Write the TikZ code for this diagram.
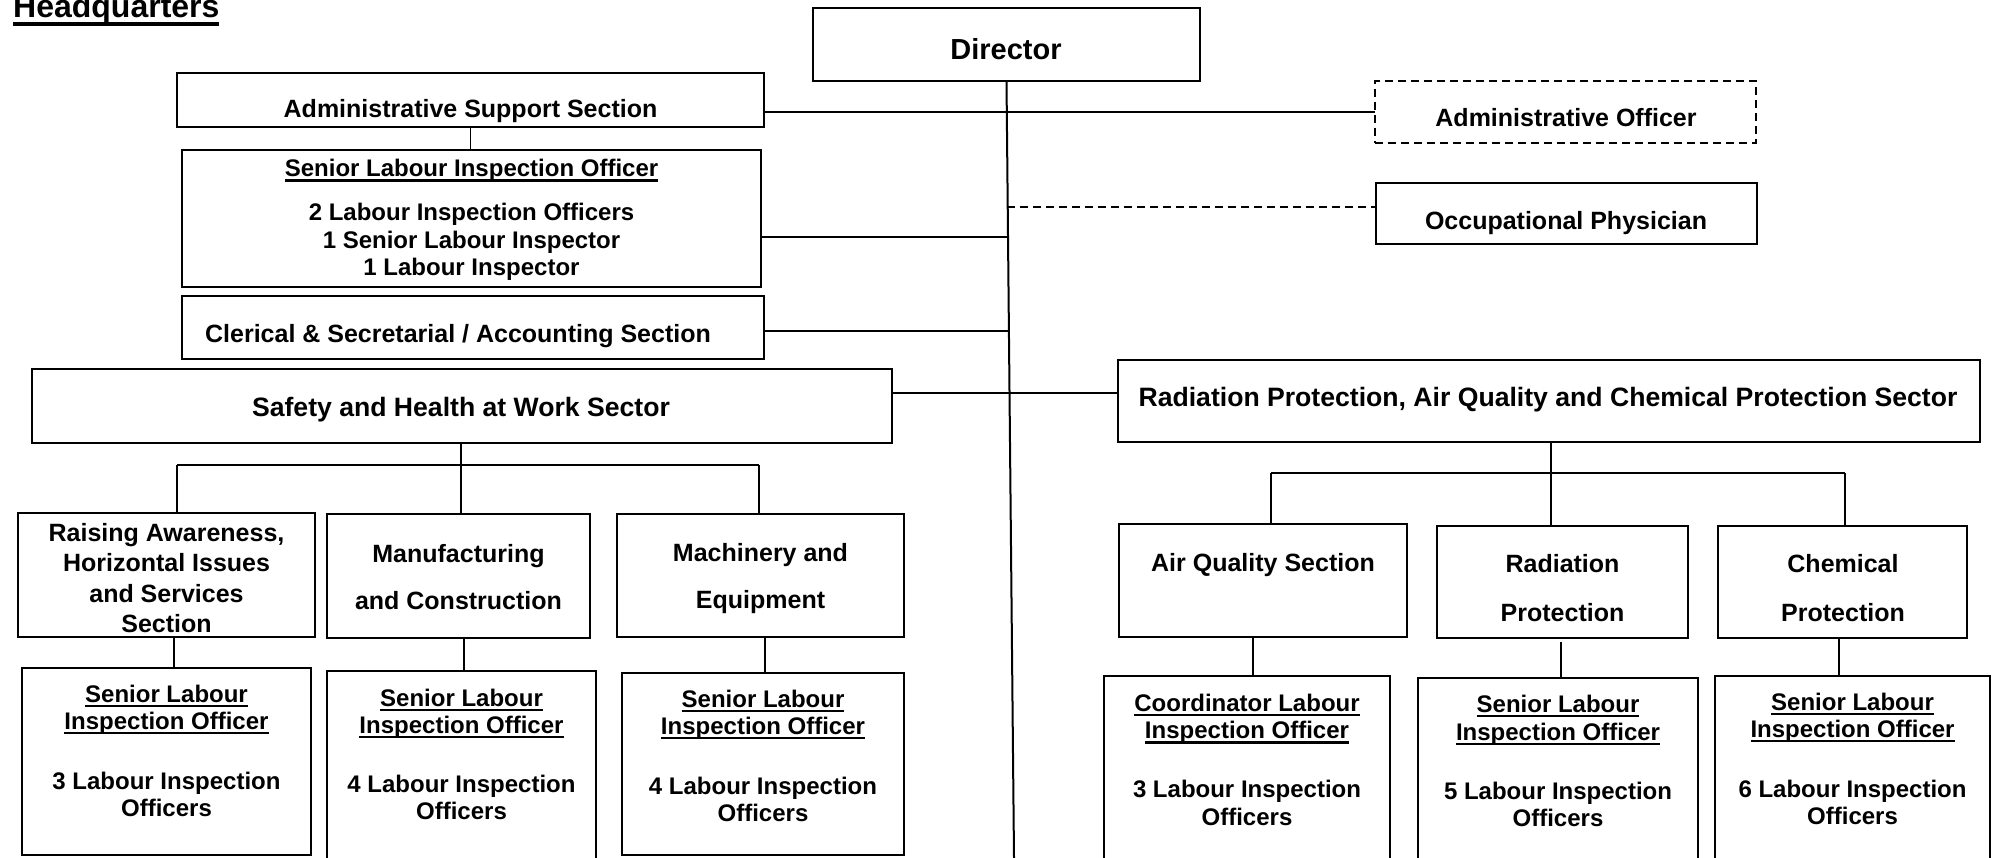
\documentclass[tikz,border=0pt]{standalone}
\usepackage{fontspec}
\setmainfont{Liberation Sans}
\newcommand\uln[1]{\setbox0=\hbox{#1}\leavevmode\rlap{\vrule height -2.5pt depth 5pt width \wd0}\box0}
\newcommand\ulnb[1]{\setbox0=\hbox{#1}\leavevmode\rlap{\vrule height -4pt depth 8pt width \wd0}\box0}
\newcommand\boxat[6][]{\node[bx,#1, minimum width=#4-#2, minimum height=#5-#3] (#6) at (#2,#3) {};}
\newcommand\txtlines[6]{\foreach \mytext [count=\i] in {#6} {\node[#5] (#1-\i) at (#2,{#3+(\i-1)*#4}) {\mytext};}}
\tikzset{
  bx/.style={draw, line width=2pt, anchor=north west, inner sep=0pt, outer sep=0pt},
  tbase/.style={anchor=base, inner sep=0pt, font=\bfseries},
  tsz/.style={tbase, font=\fontsize{#1}{#1}\selectfont\bfseries},
  ln/.style={line width=2pt},
  thinln/.style={line width=1.3pt},
  dsh/.style={dash pattern=on 8pt off 5pt}
}
\begin{document}
\begin{tikzpicture}[x=1pt,y=-1pt]
\useasboundingbox (0,0) rectangle (1996,858);
\clip (0,0) rectangle (1996,858);
% title
\node[tsz=32, anchor=base west] (hq) at (13,18) {\ulnb{Headquarters}};
% director
\boxat{813}{8}{1200}{81}{dir}
\node[tsz=29] (dirt) at (1006,60) {Director};
\coordinate (dirbot) at (1014,858);
\draw[ln] (dir.south) -- (dirbot);
% junctions on the director line
\coordinate (j1) at (1007.3,207);
\coordinate (j2) at (1007.6,237);
\coordinate (j3) at (1008.6,331);
\coordinate (j4) at (1009.2,393);
% admin support
\boxat{177}{73}{764}{127}{as}
\node[tsz=25] (ast) at (470.5,118) {Administrative Support Section};
\boxat[dsh]{1375}{81}{1756}{143}{ao}
\node[tsz=25] (aot) at (1566,127) {Administrative Officer};
\draw[ln] (as.east |- ao.west) -- (ao.west);
\boxat{1376}{183}{1757}{244}{op}
\node[tsz=25] (opt) at (1566,230) {Occupational Physician};
\draw[thinln, dsh] (j1) -- (op.west |- j1);
% admin staff
\boxat{182}{150}{761}{287}{s0}
\node[tsz=24] (s0t) at (471.5,177) {\uln{Senior Labour Inspection Officer}};
\txtlines{s0l}{471.5}{221}{27.5}{tsz=24}{2 Labour Inspection Officers,1 Senior Labour Inspector,1 Labour Inspector}
\draw[thinln] (as.south) -- (as.south |- s0.north);
\draw[thinln] (s0.east |- j2) -- (j2);
% clerical
\boxat{182}{296}{764}{359}{cl}
\node[tsz=25] (clt) at (458,342) {Clerical \& Secretarial / Accounting Section};
\draw[thinln] (cl.east |- j3) -- (j3);
% sectors
\boxat{32}{369}{892}{443}{saf}
\node[tsz=26.6] (saft) at (461,416.5) {Safety and Health at Work Sector};
\boxat{1118}{360}{1980}{442}{rad}
\node[tsz=26.6] (radt) at (1548,406) {Radiation Protection, Air Quality and Chemical Protection Sector};
\draw[ln] (saf.east |- j4) -- (rad.west |- j4);
% safety sections
\boxat{18}{513}{315}{637}{r1}
\txtlines{r1t}{166.5}{541.5}{30.3}{tsz=25}{{Raising Awareness,},Horizontal Issues,and Services,Section}
\boxat{327}{514}{590}{638}{m2}
\txtlines{m2t}{458.5}{562}{47}{tsz=25}{Manufacturing,and Construction}
\boxat{617}{514}{904}{637}{m3}
\txtlines{m3t}{760.5}{561}{47}{tsz=25}{Machinery and,Equipment}
\coordinate (sL) at (177,465);
\coordinate (sR) at (759,465);
\draw[ln] ([xshift=-1pt]saf.south) -- ([xshift=-1pt]saf.south |- m2.north);
\draw[ln] (sL) -- (sR);
\draw[ln] (sL) -- (sL |- r1.north);
\draw[ln] (sR) -- (sR |- m3.north);
% safety staff
\boxat{22}{668}{311}{855}{b1}
\txtlines{b1a}{166.5}{702}{27}{tsz=24}{\uln{Senior Labour},\uln{Inspection Officer}}
\txtlines{b1b}{166.5}{789}{27}{tsz=24}{3 Labour Inspection,Officers}
\boxat{327}{671}{596}{880}{b2}
\txtlines{b2a}{461.5}{706}{27}{tsz=24}{\uln{Senior Labour},\uln{Inspection Officer}}
\txtlines{b2b}{461.5}{792}{27}{tsz=24}{4 Labour Inspection,Officers}
\boxat{622}{673}{904}{855}{b3}
\txtlines{b3a}{763}{707}{27}{tsz=24}{\uln{Senior Labour},\uln{Inspection Officer}}
\txtlines{b3b}{763}{794}{27}{tsz=24}{4 Labour Inspection,Officers}
\draw[thinln] ([xshift=7.5pt]r1.south) -- ([xshift=7.5pt]r1.south |- b1.north);
\draw[thinln] ([xshift=5.5pt]m2.south) -- ([xshift=5.5pt]m2.south |- b2.north);
\draw[thinln] ([xshift=4.5pt]m3.south) -- ([xshift=4.5pt]m3.south |- b3.north);
% radiation sections
\boxat{1119}{524}{1407}{637}{aq}
\node[tsz=25] (aqt) at (1263,571) {Air Quality Section};
\boxat{1437}{526}{1688}{638}{rp}
\txtlines{rpt}{1562.5}{572}{49}{tsz=25}{Radiation,Protection}
\boxat{1718}{526}{1967}{638}{cp}
\txtlines{cpt}{1843}{572}{49}{tsz=25}{Chemical,Protection}
\coordinate (rL) at (1271,473);
\coordinate (rR) at (1845,473);
\draw[ln] ([xshift=2pt]rad.south) -- ([xshift=2pt]rad.south |- rp.north);
\draw[ln] (rL) -- (rR);
\draw[ln] (rL) -- (rL |- aq.north);
\draw[ln] (rR) -- (rR |- cp.north);
% radiation staff
\boxat{1104}{676}{1390}{880}{ba}
\txtlines{bat}{1247}{711}{27.5}{tsz=24}{\uln{Coordinator Labour},\uln{Inspection Officer}}
\txtlines{bab}{1247}{797}{28}{tsz=24}{3 Labour Inspection,Officers}
\boxat{1418}{678}{1698}{880}{bb}
\txtlines{bbt}{1558}{712}{28}{tsz=24}{\uln{Senior Labour},\uln{Inspection Officer}}
\txtlines{bbb}{1558}{799}{27}{tsz=24}{5 Labour Inspection,Officers}
\boxat{1715}{676}{1990}{880}{bc}
\txtlines{bct}{1852.5}{710}{27}{tsz=24}{\uln{Senior Labour},\uln{Inspection Officer}}
\txtlines{bcb}{1852.5}{797}{27}{tsz=24}{6 Labour Inspection,Officers}
\draw[thinln] ([xshift=-10pt]aq.south) -- ([xshift=-10pt]aq.south |- ba.north);
\draw[thinln] ([xshift=-1.5pt,yshift=-4pt]rp.south) -- ([xshift=-1.5pt]rp.south |- bb.north);
\draw[thinln] ([xshift=-3.5pt]cp.south) -- ([xshift=-3.5pt]cp.south |- bc.north);
\end{tikzpicture}
\end{document}
